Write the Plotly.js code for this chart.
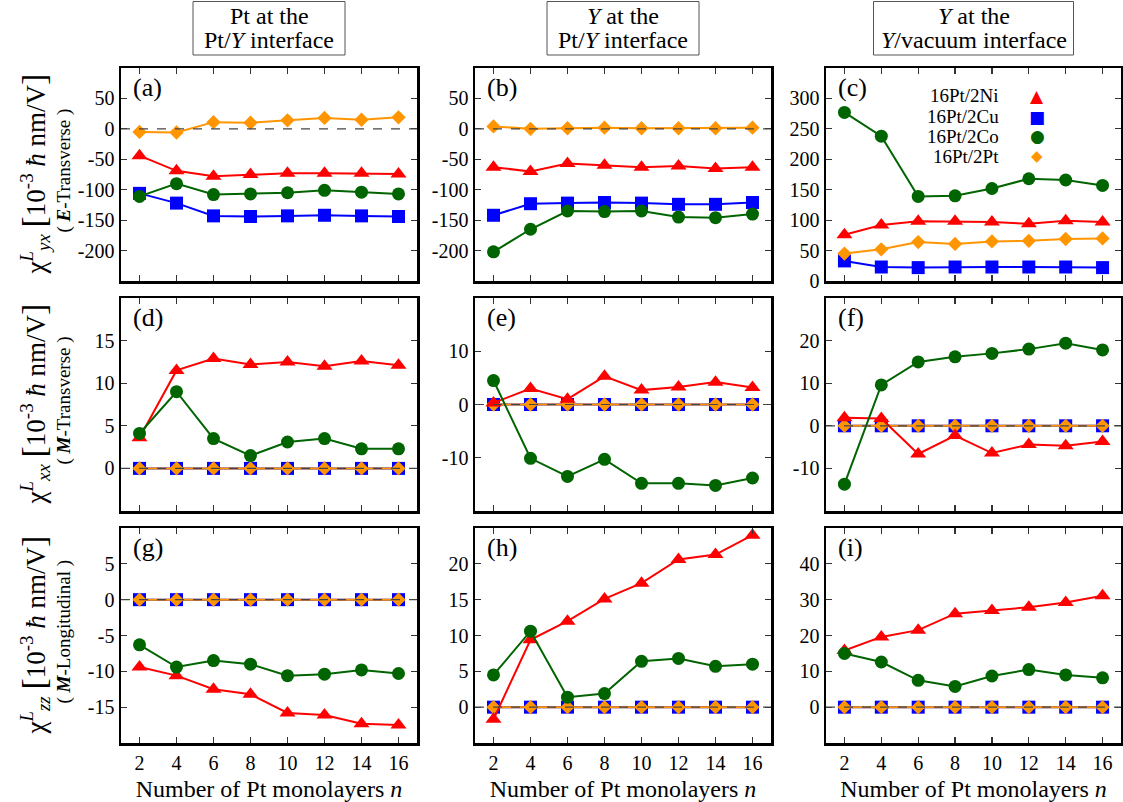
<!DOCTYPE html>
<html>
<head>
<meta charset="utf-8">
<script src="https://cdn.plot.ly/plotly-3.0.1.min.js"></script>
<style>html,body{margin:0;padding:0;background:#fff;}#chart{width:1123px;height:802px;}</style>
</head>
<body>
<div id="chart"></div>
<script>
// ---------- data ----------
const nLayers = [2, 4, 6, 8, 10, 12, 14, 16];
const seriesNames = ['16Pt/2Ni', '16Pt/2Cu', '16Pt/2Co', '16Pt/2Pt'];

// (a) chi_yx, Pt at Pt/Y interface
const a_Ni = [-44, -69, -78, -75, -73, -73, -73, -74];
const a_Cu = [-106, -122, -143, -144, -143, -142, -143, -144];
const a_Co = [-111, -90, -108, -107, -105, -101, -104, -107];
const a_Pt = [-5, -6, 11, 10, 14, 18, 15, 19];
// (b) chi_yx, Y at Pt/Y interface
const b_Ni = [-63, -70, -57, -60, -63, -61, -65, -63];
const b_Cu = [-142, -123, -122, -121, -122, -124, -124, -121];
const b_Co = [-202, -165, -135, -136, -135, -145, -146, -140];
const b_Pt = [4, 0, 1, 2, 1, 1, 1, 2];
// (c) chi_yx, Y at Y/vacuum interface
const c_Ni = [76, 92, 98, 98, 97, 94, 99, 97];
const c_Cu = [33, 23, 22, 23, 23, 23, 23, 22];
const c_Co = [277, 238, 139, 140, 152, 168, 166, 157];
const c_Pt = [45, 52, 64, 61, 65, 66, 69, 70];
// (d) chi_xx
const d_Ni = [3.6, 11.5, 12.9, 12.2, 12.5, 12.0, 12.6, 12.1];
const d_Cu = [0, 0, 0, 0, 0, 0, 0, 0];
const d_Co = [4.1, 9.0, 3.5, 1.5, 3.1, 3.5, 2.3, 2.3];
const d_Pt = [0, 0, 0, 0, 0, 0, 0, 0];
// (e)
const e_Ni = [0.3, 3.0, 1.0, 5.3, 2.7, 3.3, 4.2, 3.2];
const e_Cu = [0, 0, 0, 0, 0, 0, 0, 0];
const e_Co = [4.5, -10.1, -13.5, -10.3, -14.8, -14.8, -15.2, -13.8];
const e_Pt = [0, 0, 0, 0, 0, 0, 0, 0];
// (f)
const f_Ni = [1.9, 1.7, -6.6, -2.3, -6.4, -4.4, -4.7, -3.7];
const f_Cu = [0, 0, 0, 0, 0, 0, 0, 0];
const f_Co = [-13.7, 9.6, 15.0, 16.2, 17.0, 18.0, 19.4, 17.8];
const f_Pt = [0, 0, 0, 0, 0, 0, 0, 0];
// (g) chi_zz
const g_Ni = [-9.4, -10.6, -12.5, -13.2, -15.8, -16.1, -17.3, -17.5];
const g_Cu = [0, 0, 0, 0, 0, 0, 0, 0];
const g_Co = [-6.3, -9.4, -8.5, -9.0, -10.6, -10.4, -9.8, -10.3];
const g_Pt = [0, 0, 0, 0, 0, 0, 0, 0];
// (h)
const h_Ni = [-1.7, 9.4, 12.0, 15.1, 17.3, 20.6, 21.3, 24.0];
const h_Cu = [0, 0, 0, 0, 0, 0, 0, 0];
const h_Co = [4.5, 10.6, 1.4, 1.9, 6.4, 6.8, 5.7, 6.0];
const h_Pt = [0, 0, 0, 0, 0, 0, 0, 0];
// (i)
const i_Ni = [15.8, 19.6, 21.5, 26.1, 27.0, 27.9, 29.2, 31.1];
const i_Cu = [0, 0, 0, 0, 0, 0, 0, 0];
const i_Co = [15.0, 12.6, 7.5, 5.8, 8.7, 10.5, 9.0, 8.2];
const i_Pt = [0, 0, 0, 0, 0, 0, 0, 0];

const panelLabels = ['(a)', '(b)', '(c)', '(d)', '(e)', '(f)', '(g)', '(h)', '(i)'];
const yRanges = [[-250, 100], [-250, 100], [0, 350], [-5, 20], [-20, 20], [-20, 30], [-20, 10], [-5, 25], [-10, 50]];
const yTicks = [
  [-200, -150, -100, -50, 0, 50], [-200, -150, -100, -50, 0, 50], [0, 50, 100, 150, 200, 250, 300],
  [0, 5, 10, 15], [-10, 0, 10], [-10, 0, 10, 20],
  [-15, -10, -5, 0, 5], [0, 5, 10, 15, 20], [0, 10, 20, 30, 40]
];
const xTicks = [2, 4, 6, 8, 10, 12, 14, 16];
const headerLine1 = ['Pt at the', '<i>Y</i> at the', '<i>Y</i> at the'];
const headerLine2 = ['Pt/<i>Y</i> interface', 'Pt/<i>Y</i> interface', '<i>Y</i>/vacuum interface'];
const rowTitles = [
  ['χ<sup><i>L</i></sup><sub><i>yx</i></sub> <span style="font-size:34px">[</span>10<sup>-3</sup> <i>ħ</i> nm/V<span style="font-size:34px">]</span>', '( <b><i>E</i></b>-Transverse )'],
  ['χ<sup><i>L</i></sup><sub><i>xx</i></sub> <span style="font-size:34px">[</span>10<sup>-3</sup> <i>ħ</i> nm/V<span style="font-size:34px">]</span>', '( <b><i>M</i></b>-Transverse )'],
  ['χ<sup><i>L</i></sup><sub><i>zz</i></sub> <span style="font-size:34px">[</span>10<sup>-3</sup> <i>ħ</i> nm/V<span style="font-size:34px">]</span>', '( <b><i>M</i></b>-Longitudinal )']
];
const xTitle = 'Number of Pt monolayers <i>n</i>';

const panelData = [
  [a_Ni, a_Cu, a_Co, a_Pt], [b_Ni, b_Cu, b_Co, b_Pt], [c_Ni, c_Cu, c_Co, c_Pt],
  [d_Ni, d_Cu, d_Co, d_Pt], [e_Ni, e_Cu, e_Co, e_Pt], [f_Ni, f_Cu, f_Co, f_Pt],
  [g_Ni, g_Cu, g_Co, g_Pt], [h_Ni, h_Cu, h_Co, h_Pt], [i_Ni, i_Cu, i_Co, i_Pt]
];

// ---------- styles ----------
const FONT = '"Liberation Serif", "Times New Roman", serif';
const W = 1123, H = 802;
const colors = ['#ff0000', '#0000ff', '#006400', '#ff9500'];
const symbols = ['triangle-up', 'square', 'circle', 'diamond'];
const msizes = [14, 13, 13, 11];
const drawOrder = [1, 3, 0, 2]; // Cu, Pt, Ni, Co
const colPx = [[121, 417], [475, 771], [826, 1121]];
const rowPx = [[68, 281], [298, 511], [528, 743]];
const headerBoxW = [152, 152, 200];

const traces = [];
const layout = {
  width: W, height: H,
  margin: {l: 0, r: 0, t: 0, b: 0},
  paper_bgcolor: '#fff', plot_bgcolor: '#fff',
  showlegend: false,
  font: {family: FONT, size: 18, color: '#000'},
  shapes: [], annotations: []
};

for (let p = 0; p < 9; p++) {
  const r = Math.floor(p / 3), c = p % 3;
  const k = p === 0 ? '' : String(p + 1);
  const xa = 'x' + k, ya = 'y' + k;
  drawOrder.forEach(s => {
    traces.push({
      x: nLayers, y: panelData[p][s], xaxis: xa, yaxis: ya,
      type: 'scatter', mode: 'lines+markers', name: seriesNames[s],
      line: {color: colors[s], width: 2},
      marker: {color: colors[s], symbol: symbols[s], size: msizes[s]},
      hoverinfo: 'skip'
    });
  });
  const common = {
    showline: true, mirror: 'ticks', linecolor: '#000', linewidth: 2.5,
    ticks: 'inside', ticklen: 6, tickwidth: 1.2, tickcolor: '#333',
    showgrid: false, zeroline: false,
    tickfont: {family: FONT, size: 20, color: '#000'}
  };
  const xax = Object.assign({}, common, {
    domain: [colPx[c][0] / W, colPx[c][1] / W], anchor: ya,
    range: [1, 17], tickmode: 'array', tickvals: xTicks,
    ticktext: xTicks.map(String), showticklabels: r === 2
  });
  if (r === 2) xax.title = {text: xTitle, font: {family: FONT, size: 24, color: '#000'}, standoff: 10};
  layout['xaxis' + k] = xax;
  layout['yaxis' + k] = Object.assign({}, common, {
    domain: [1 - rowPx[r][1] / H, 1 - rowPx[r][0] / H], anchor: xa,
    range: yRanges[p], tickmode: 'array', tickvals: yTicks[p],
    ticktext: yTicks[p].map(String)
  });
  // dashed zero reference line
  if (yRanges[p][0] < 0) {
    layout.shapes.push({
      type: 'line', xref: xa + ' domain', yref: ya, x0: 0, x1: 1, y0: 0, y1: 0,
      line: {color: '#444', width: 1.2, dash: 'dash'}, layer: 'above'
    });
  }
  // panel label
  layout.annotations.push({
    xref: xa + ' domain', yref: ya + ' domain', x: 0.035, y: 0.985,
    xanchor: 'left', yanchor: 'top', showarrow: false,
    text: panelLabels[p], font: {family: FONT, size: 26, color: '#000'}
  });
}

// column headers: framed two-line boxes
for (let c = 0; c < 3; c++) {
  const cx = (colPx[c][0] + colPx[c][1]) / 2;
  layout.shapes.push({
    type: 'rect', xref: 'paper', yref: 'paper',
    x0: (cx - headerBoxW[c] / 2) / W, x1: (cx + headerBoxW[c] / 2) / W,
    y0: 1 - 55 / H, y1: 1 - 1.5 / H,
    line: {color: '#555', width: 1}, fillcolor: 'rgba(0,0,0,0)'
  });
  layout.annotations.push({
    xref: 'paper', yref: 'paper', x: cx / W, y: 1 - 16 / H,
    xanchor: 'center', yanchor: 'middle', showarrow: false,
    text: headerLine1[c], font: {family: FONT, size: 24, color: '#000'}
  });
  layout.annotations.push({
    xref: 'paper', yref: 'paper', x: cx / W, y: 1 - 40 / H,
    xanchor: 'center', yanchor: 'middle', showarrow: false,
    text: headerLine2[c], font: {family: FONT, size: 24, color: '#000'}
  });
}

// row (y-axis) titles
rowTitles.forEach((t, r) => {
  const yc = 1 - (rowPx[r][0] + rowPx[r][1]) / 2 / H;
  layout.annotations.push({
    xref: 'paper', yref: 'paper', x: 34 / W, y: yc, xanchor: 'center', yanchor: 'middle',
    textangle: -90, showarrow: false, text: t[0], font: {family: FONT, size: 27, color: '#000'}
  });
  layout.annotations.push({
    xref: 'paper', yref: 'paper', x: 64 / W, y: yc + 0.005, xanchor: 'center', yanchor: 'middle',
    textangle: -90, showarrow: false, text: t[1], font: {family: FONT, size: 19, color: '#000'}
  });
});

// legend in panel (c): labels right-aligned, symbols to the right
const legendGlyphs = ['▲', '■', '●', '◆'];
const legendY = [96, 117, 136, 156];
seriesNames.forEach((nm, s) => {
  layout.annotations.push({
    xref: 'paper', yref: 'paper', x: 1001 / W, y: 1 - legendY[s] / H,
    xanchor: 'right', yanchor: 'middle', showarrow: false,
    text: nm, font: {family: FONT, size: 19, color: '#000'}
  });
  layout.annotations.push({
    xref: 'paper', yref: 'paper', x: 1037 / W, y: 1 - legendY[s] / H,
    xanchor: 'center', yanchor: 'middle', showarrow: false,
    text: legendGlyphs[s], font: {family: 'DejaVu Sans', size: s === 3 ? 15 : 17, color: colors[s]}
  });
});

Plotly.newPlot('chart', traces, layout, {displayModeBar: false, staticPlot: true});
</script>
</body>
</html>
